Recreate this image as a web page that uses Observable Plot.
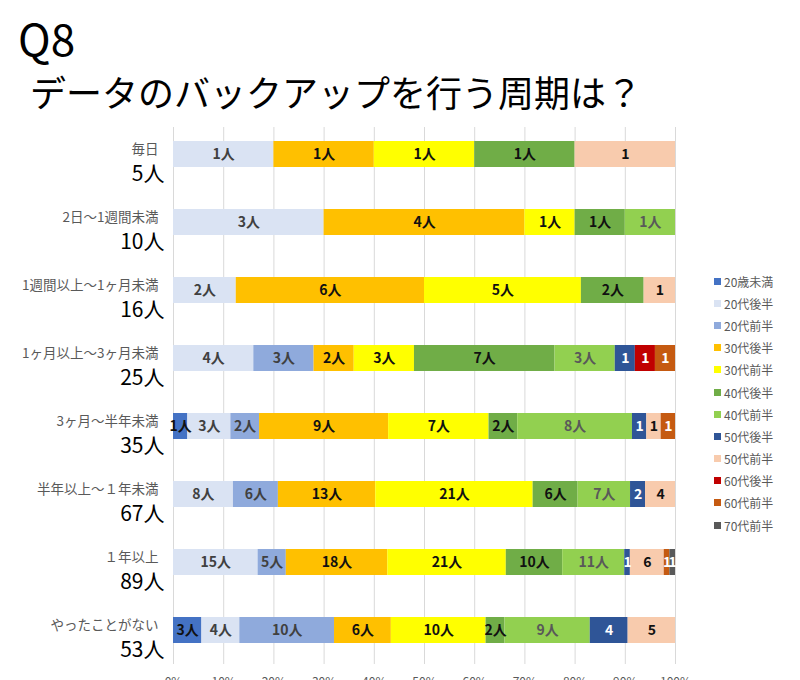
<!DOCTYPE html>
<html><head><meta charset="utf-8">
<script src="https://cdn.jsdelivr.net/npm/d3@7"></script>
<script src="https://cdn.jsdelivr.net/npm/@observablehq/plot@0.6"></script>
<style>
html,body{margin:0;padding:0;background:#fff;overflow:hidden;}
#wrap{position:relative;width:800px;height:680px;font-family:"Noto Sans CJK JP",sans-serif;}
#q{position:absolute;left:18px;top:12px;font-size:44px;line-height:50px;color:#000;white-space:nowrap;}
#sub{position:absolute;left:30px;top:70px;font-size:36px;line-height:42px;color:#000;white-space:nowrap;}
#legend{position:absolute;left:714px;top:270px;}
.li{height:22.2px;display:flex;align-items:center;font-size:12px;color:#595959;white-space:nowrap;}
.sw{width:7px;height:7px;margin-right:3px;flex:none;}
#chart{position:absolute;left:0;top:0;}
</style></head>
<body>
<div id="wrap">
  <div id="chart"></div>
  <div id="q">Q8</div>
  <div id="sub">データのバックアップを行う周期は？</div>
  <div id="legend"></div>
</div>
<script>
// ---- data ----
const categories = ["毎日","2日〜1週間未満","1週間以上〜1ヶ月未満","1ヶ月以上〜3ヶ月未満","3ヶ月〜半年未満","半年以上〜１年未満","１年以上","やったことがない"];
const totals = [5,10,16,25,35,67,89,53];
const groups = ["20歳未満","20代後半","20代前半","30代後半","30代前半","40代後半","40代前半","50代後半","50代前半","60代後半","60代前半","70代前半"];
const under20   = [0,0,0,0,1,0,0,3];
const late20s   = [1,3,2,4,3,8,15,4];
const early20s  = [0,0,0,3,2,6,5,10];
const late30s   = [1,4,6,2,9,13,18,6];
const early30s  = [1,1,5,3,7,21,21,10];
const late40s   = [1,1,2,7,2,6,10,2];
const early40s  = [0,1,0,3,8,7,11,9];
const late50s   = [0,0,0,1,1,2,1,4];
const early50s  = [1,0,1,0,1,4,6,5];
const late60s   = [0,0,0,1,0,0,0,0];
const early60s  = [0,0,0,1,1,0,1,0];
const early70s  = [0,0,0,0,0,0,1,0];
const xTicks = [0,0.1,0.2,0.3,0.4,0.5,0.6,0.7,0.8,0.9,1];

// ---- styles ----
const palette = ["#4472C4","#DAE3F3","#8FAADC","#FFC000","#FFFF00","#70AD47","#92D050","#2F5597","#F8CBAD","#C00000","#C55A11","#595959"];
const labelColors = ["#111","#404040","#404040","#111","#111","#111","#595959","#fff","#111","#fff","#fff","#fff"];
const withUnit = [true,true,true,true,true,true,true,false,false,false,false,false];

const seriesValues = [under20,late20s,early20s,late30s,early30s,late40s,early40s,late50s,early50s,late60s,early60s,early70s];
const rows = [];
categories.forEach((c,i) => {
  groups.forEach((g,j) => {
    const v = seriesValues[j][i];
    if (v > 0) rows.push({cat: c, group: g, value: v, gi: j});
  });
});
const catRows = categories.map((c,i) => ({cat: c, total: totals[i]}));

const font = '"Noto Sans CJK JP", sans-serif';
const chart = Plot.plot({
  width: 800,
  height: 700,
  marginLeft: 173,
  marginRight: 125,
  marginTop: 120,
  marginBottom: 36,
  style: {fontFamily: font, background: "transparent"},
  x: {domain: [0,1], axis: null},
  y: {domain: categories, axis: null, paddingInner: 0.62, paddingOuter: 0.31},
  color: {domain: groups, range: palette},
  marks: [
    Plot.ruleX(xTicks, {x: d => d, stroke: "#d9d9d9", strokeWidth: 1, insetTop: 7}),
    Plot.barX(rows, Plot.stackX({offset: "normalize", x: "value", y: "cat", z: "group", fill: "group"})),
    Plot.text(rows, Plot.stackX({offset: "normalize", x: "value", y: "cat", z: "group",
      text: d => d.value + (withUnit[d.gi] ? "人" : ""),
      fill: d => labelColors[d.gi], fontSize: 14, fontWeight: "bold"})),
    Plot.text(catRows, {y: "cat", text: "cat", frameAnchor: "left", textAnchor: "end", dx: -15, dy: -5, fontSize: 13.5, fill: "#595959"}),
    Plot.text(catRows, {y: "cat", text: d => d.total + "人", frameAnchor: "left", textAnchor: "end", dx: -9, dy: 20, fontSize: 21, fill: "#000"}),
    Plot.axisX(xTicks, {tickFormat: d3.format(".0%"), tickSize: 0, tickPadding: 13, fontSize: 12, fill: "#595959"})
  ]
});
document.getElementById("chart").appendChild(chart);

const legend = document.getElementById("legend");
groups.forEach((g,j) => {
  const item = document.createElement("div");
  item.className = "li";
  const sw = document.createElement("span");
  sw.className = "sw";
  sw.style.background = palette[j];
  const t = document.createElement("span");
  t.textContent = g;
  item.appendChild(sw); item.appendChild(t);
  legend.appendChild(item);
});
</script>
</body></html>
